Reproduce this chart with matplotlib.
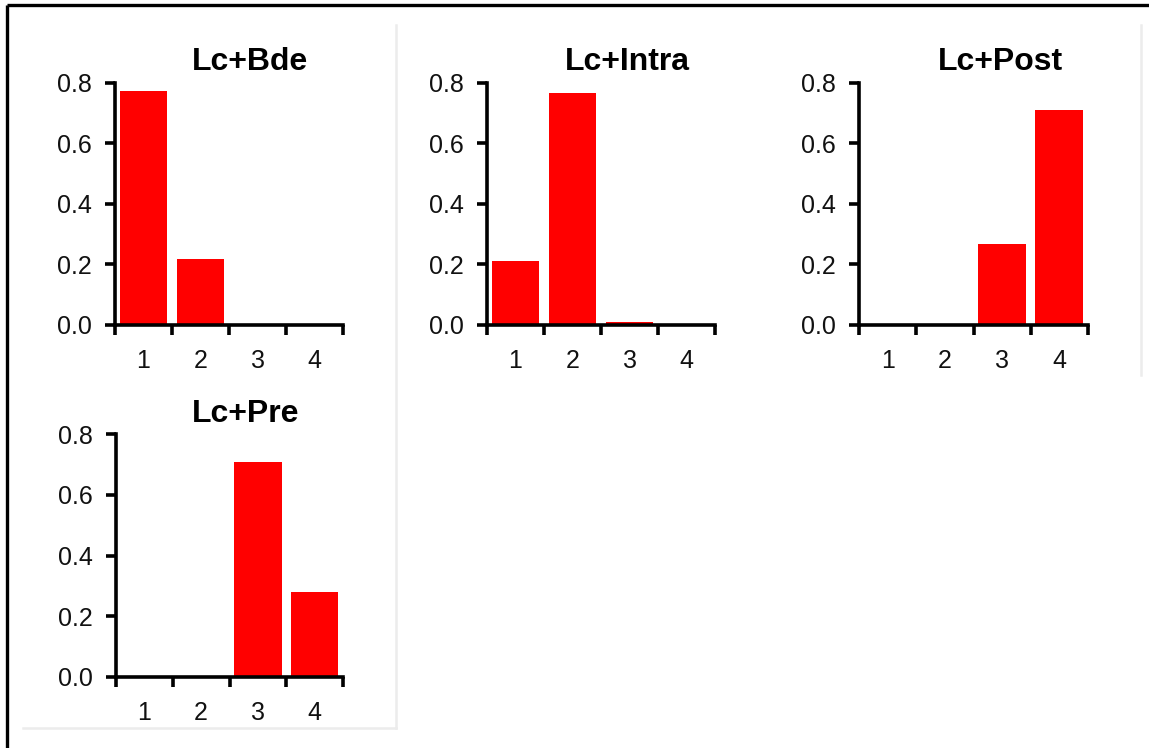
import matplotlib
matplotlib.use("Agg")
import matplotlib.pyplot as plt
from matplotlib.lines import Line2D

plt.rcParams["font.family"] = ["Liberation Sans", "DejaVu Sans"]

# Data: four panels, share of each of four classes
categories = [1, 2, 3, 4]
titles = ["Lc+Bde", "Lc+Intra", "Lc+Post", "Lc+Pre"]
lc_bde = [0.774, 0.218, 0.0, 0.0]
lc_intra = [0.211, 0.767, 0.010, 0.0]
lc_post = [0.0, 0.0, 0.267, 0.711]
lc_pre = [0.0, 0.0, 0.708, 0.280]
series = [lc_bde, lc_intra, lc_post, lc_pre]
y_ticks = [0.0, 0.2, 0.4, 0.6, 0.8]
y_tick_labels = ["0.0", "0.2", "0.4", "0.6", "0.8"]

W, H = 1149, 748
fig = plt.figure(figsize=(W / 100, H / 100), dpi=100)
fig.patch.set_facecolor("white")


def px_rect(x0, x1, y_top, y_base):
    return [x0 / W, (H - y_base) / H, (x1 - x0) / W, (y_base - y_top) / H]


# axes boxes in pixels: left, right, top (0.8), baseline (0.0)
boxes = [
    (115, 343, 83, 325),
    (487, 715, 83, 325),
    (859, 1088, 83, 325),
    (116, 343, 434, 677),
]
# title centre (pixels)
title_pos = [(250, 62), (627, 62), (1000, 62), (246, 414)]

# light panel frames
frame_color = "#ececec"
for xs, ys in [
    ([396, 396], [25, 728]),
    ([23, 396], [728, 728]),
    ([1141, 1141], [25, 375]),
]:
    fig.add_artist(Line2D([x / W for x in xs], [1 - y / H for y in ys],
                          color=frame_color, lw=1.8, transform=fig.transFigure))

# outer black border (top and left)
fig.add_artist(Line2D([7 / W, 1.0], [1 - 4.5 / H, 1 - 4.5 / H], color="black",
                      lw=2.4, transform=fig.transFigure, solid_capstyle="butt"))
fig.add_artist(Line2D([7 / W, 7 / W], [1 - 4.5 / H, 0.0], color="black",
                      lw=2.4, transform=fig.transFigure, solid_capstyle="butt"))

for vals, title, box, tp in zip(series, titles, boxes, title_pos):
    ax = fig.add_axes(px_rect(*box))
    ax.bar(categories, vals, width=0.84, color="#ff0000", edgecolor="none")
    ax.set_xlim(0.5, 4.5)
    ax.set_ylim(0, 0.8)
    for s in ["top", "right"]:
        ax.spines[s].set_visible(False)
    for s in ["left", "bottom"]:
        ax.spines[s].set_linewidth(2.6)
        ax.spines[s].set_color("black")
        ax.spines[s].set_capstyle("projecting")
    ax.set_yticks(y_ticks)
    ax.set_yticklabels(y_tick_labels)
    ax.set_xticks([0.5, 1.5, 2.5, 3.5, 4.5])
    ax.set_xticklabels([])
    ax.set_xticks(categories, minor=True)
    ax.set_xticklabels([str(c) for c in categories], minor=True)
    ax.tick_params(axis="both", which="major", direction="out", length=7,
                   width=2.6, color="black", labelsize=18, labelcolor="#111111")
    ax.tick_params(axis="x", which="minor", length=0, pad=17, labelsize=18,
                   labelcolor="#111111")
    ax.tick_params(axis="y", pad=10)
    ax.patch.set_alpha(0)
    fig.text(tp[0] / W, 1 - tp[1] / H, title, ha="center", va="center",
             fontsize=23, fontweight="bold", color="black")

fig.savefig("out.png", dpi=100, facecolor="white")
